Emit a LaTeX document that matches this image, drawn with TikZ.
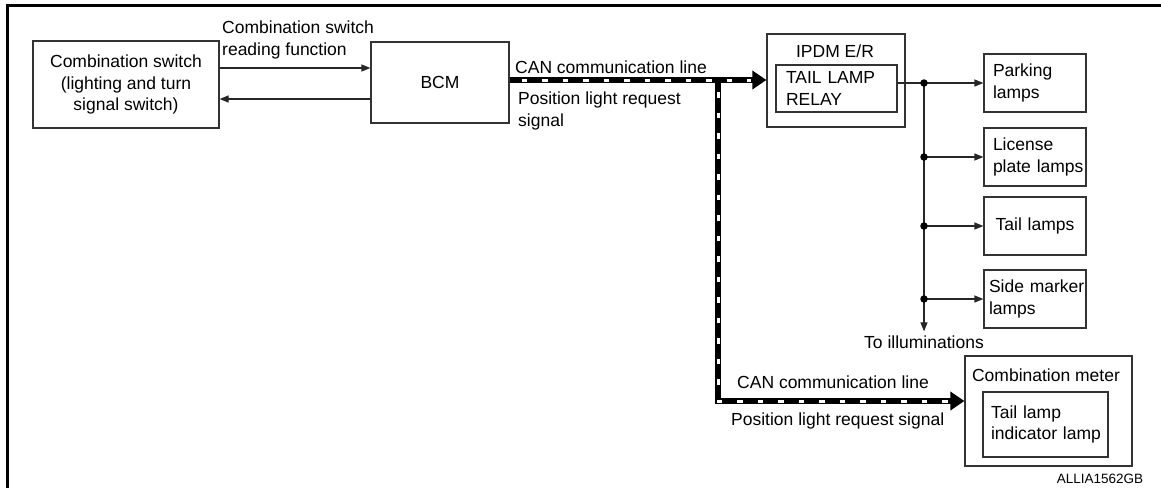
\documentclass[tikz,border=0pt]{standalone}
\usepackage{fontspec}
\setmainfont{Liberation Sans}
\usetikzlibrary{arrows.meta}

\begin{document}
\begin{tikzpicture}[x=1pt, y=-1pt,
  every node/.style={font=\fontsize{17.5}{21.5}\selectfont},
  unit/.style={draw=black!80, line width=1.2pt, inner sep=0pt},
  lampbox/.style={unit, minimum width=102pt, minimum height=58pt, text width=84pt, inner xsep=9pt, align=left},
  sig/.style={draw=black!85, line width=1.2pt, -{Triangle[length=9pt,width=7pt]}},
  can/.style={line width=6pt, -{Triangle[length=14pt,width=18pt]},
    postaction={draw=white, line width=3pt, -, dash pattern=on 5.5pt off 15pt, dash phase=8.5pt, shorten >=15pt}},
  dot/.style={circle, fill=black, inner sep=0pt, minimum size=7.5pt},
]
% frame {{{
\useasboundingbox (0,0) rectangle (1161,488);
\draw[line width=3pt] (7.5,488) -- (7.5,5.5) -- (1161,5.5);
% }}}
% switch and BCM {{{
\node[unit, minimum width=186pt, minimum height=87pt, align=center] (sw) at (126,84.5) {Combination switch\\(lighting and turn\\signal switch)};
\node[unit, minimum width=138pt, minimum height=81pt] (bcm) at (440,82.5) {BCM};
\node[anchor=west, align=left, inner sep=0pt] (swread) at (222,40) {Combination switch\\reading function};
% }}}
% IPDM E/R {{{
\node[unit, minimum width=138pt, minimum height=93pt] (ipdm) at (836,80.5) {};
\node (ipdmlabel) at (835,51) {IPDM E/R};
\node[unit, minimum width=121pt, minimum height=47pt, text width=101pt, inner xsep=10pt, align=left] (relay) at (836.5,88.5) {TAIL LAMP\\RELAY};
% }}}
% lamps {{{
\node[lampbox] (park) at (1035,83) {Parking\\lamps};
\node[lampbox] (lic) at (1035,157) {License\\plate~lamps};
\node[lampbox, align=center] (tail) at (1035,226) {Tail lamps};
\node[lampbox, inner xsep=5pt, text width=92pt] (side) at (1035,299) {Side~marker\\lamps};
\node[inner sep=4pt] (illum) at (924,342) {To illuminations};
% }}}
% combination meter {{{
\node[unit, minimum width=167pt, minimum height=110pt] (meter) at (1048.5,411) {};
\node (meterlabel) at (1046,375) {Combination meter};
\node[unit, minimum width=125pt, minimum height=65pt, text width=109pt, inner xsep=8pt, align=left] (indicator) at (1045.5,424.5) {Tail lamp\\indicator~lamp};
% }}}
% CAN labels {{{
\node[anchor=west, inner sep=0pt] (cantop) at (515,67) {CAN communication line};
\node[anchor=west, align=left, inner sep=0pt] (reqtop) at (518,111) {Position light request\\signal};
\node[anchor=west, inner sep=0pt] (canbot) at (737,382) {CAN communication line};
\node[anchor=west, inner sep=0pt] (reqbot) at (731,421) {Position light request signal};
\node[font=\fontsize{13.5}{16}\selectfont] (figid) at (1100,479) {ALLIA1562GB};
% }}}
% connectors {{{
\draw[sig] ([yshift=16.5pt]sw.east) coordinate (swout) -- (swout -| bcm.west);
\draw[sig] ([yshift=-16.5pt]bcm.west) coordinate (bcmout) -- (bcmout -| sw.east);
\coordinate (canjoin) at (718,80);
\draw[can] (canjoin) |- ([yshift=10pt]meter.west);
\draw[can] ([yshift=2.5pt]bcm.east) coordinate (canout) -- (canout -| ipdm.west);
\coordinate (bus) at (924,83);
\draw[sig] (relay.east |- park.west) -- (park.west);
\draw[sig] (bus) -- (illum.north);
\foreach \lamp in {lic,tail,side} {\draw[sig] (bus |- \lamp.west) -- (\lamp.west);}
\foreach \lamp in {park,lic,tail,side} {\node[dot] (dot\lamp) at (bus |- \lamp.west) {};}
% }}}
\end{tikzpicture}
\end{document}
